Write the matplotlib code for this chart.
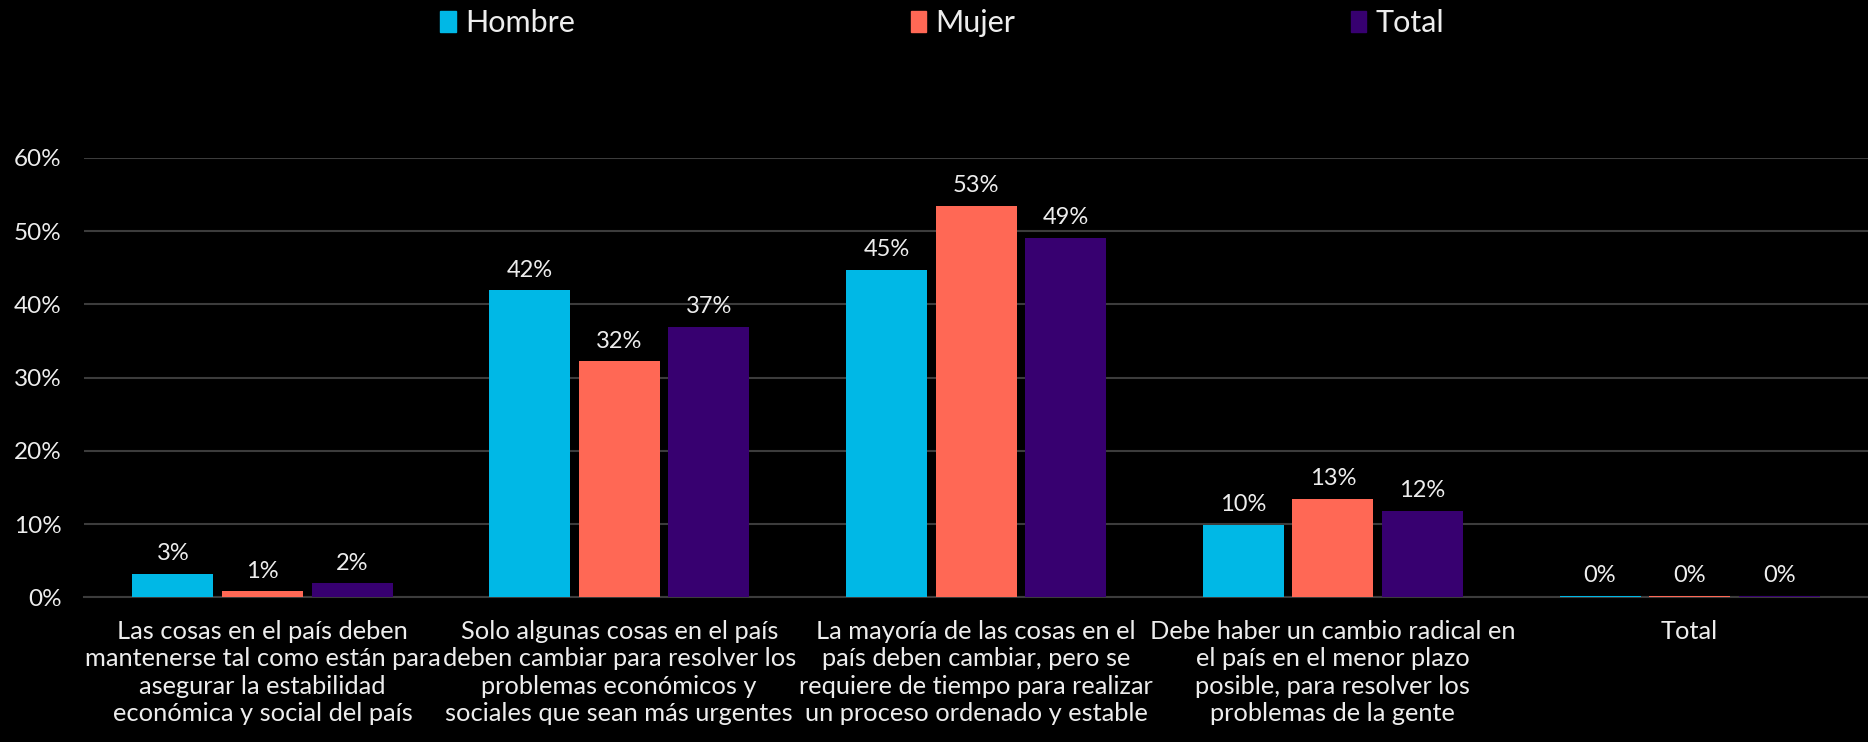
import matplotlib.pyplot as plt
import matplotlib.patches as mpatches
import numpy as np

categories = [
    "Las cosas en el país deben\nmantenerse tal como están para\nasegurar la estabilidad\neconómica y social del país",
    "Solo algunas cosas en el país\ndeben cambiar para resolver los\nproblemas económicos y\nsociales que sean más urgentes",
    "La mayoría de las cosas en el\npaís deben cambiar, pero se\nrequiere de tiempo para realizar\nun proceso ordenado y estable",
    "Debe haber un cambio radical en\nel país en el menor plazo\nposible, para resolver los\nproblemas de la gente",
    "Total",
]
series_names = ["Hombre", "Mujer", "Total"]
hombre = [0.032, 0.419, 0.447, 0.099, 0.002]
mujer = [0.008, 0.322, 0.534, 0.134, 0.002]
total = [0.019, 0.369, 0.491, 0.118, 0.002]
colors = ["#00B8E6", "#FF6855", "#370070"]

plt.rcParams['font.family'] = ['Lato', 'DejaVu Sans']
text_color = "#EDEDED"

fig = plt.figure(figsize=(18.68, 7.42), dpi=100, facecolor="black")
ax = fig.add_axes([0.045, 0.195, 0.955, 0.5923], facecolor="black")

x = np.arange(len(categories))
width = 0.227
offsets = [-0.251, 0, 0.251]
for vals, off, col, name in zip([hombre, mujer, total], offsets, colors, series_names):
    bars = ax.bar(x + off, vals, width, color=col, label=name, zorder=3)
    for b, v in zip(bars, vals):
        ax.annotate("{:.0f}%".format(v * 100), (b.get_x() + b.get_width() / 2, b.get_height()),
                    xytext=(0, 7), textcoords="offset points", ha="center", va="bottom",
                    fontsize=17, color=text_color)

ax.set_xlim(-0.5, 4.5)
ax.set_ylim(0, 0.6)
ax.set_yticks(np.arange(0, 0.61, 0.1))
ax.set_yticklabels(["{:.0f}%".format(t * 100) for t in np.arange(0, 0.61, 0.1)])
ax.yaxis.grid(True, color="#3C3C3C", linewidth=1.5, zorder=0)
ax.set_axisbelow(True)
for s in ["top", "right", "left"]:
    ax.spines[s].set_visible(False)
ax.spines["bottom"].set_color("#3C3C3C")
ax.spines["bottom"].set_linewidth(1.5)
ax.tick_params(axis="y", length=0, labelsize=17.5, colors=text_color, pad=16)
ax.tick_params(axis="x", length=0, labelsize=18.3, colors=text_color, pad=16)
ax.set_xticks(x)
ax.set_xticklabels(categories, linespacing=1.24)
for lab in ax.get_xticklabels():
    lab.set_va("top")

handles = [mpatches.Patch(color=c, label=n) for c, n in zip(colors, series_names)]
fig.legend(handles=handles, loc="upper left", bbox_to_anchor=(0.221, 1.025), ncol=3,
           frameon=False, fontsize=22, handlelength=0.5, handleheight=0.7,
           handletextpad=0.3, columnspacing=11.0, labelcolor=text_color)

fig.savefig("out.png", dpi=100, facecolor="black")
